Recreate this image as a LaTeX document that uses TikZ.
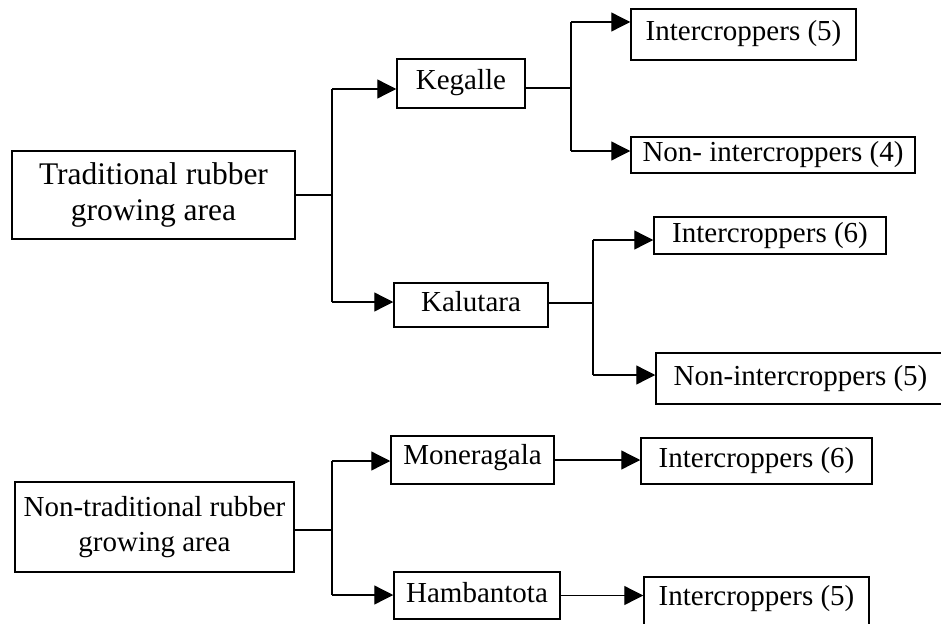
\documentclass[tikz,border=0pt]{standalone}
\usepackage{fontspec}
\setmainfont{Liberation Serif}
\usetikzlibrary{arrows.meta}
\begin{document}
\begin{tikzpicture}[x=1pt,y=-1pt,
  bx0/.style={draw,line width=1.5pt,inner sep=0pt,align=center,
    font=\fontsize{29}{33}\selectfont},
  bx/.style={bx0,text height=19pt,text depth=6pt},
  ln/.style={line width=1.3pt},
  arr/.style={line width=1.3pt,-{Triangle[length=19pt,width=19pt]}}]
\useasboundingbox (0,0) rectangle (941,623);
% nodes
\node[bx0,minimum width=283pt,minimum height=88pt,font=\fontsize{31.5}{36}\selectfont] (trad) at (153.5,195) {Traditional rubber\\growing area};
\node[bx,minimum width=128pt,minimum height=49pt] (keg) at (461,83.5) {Kegalle};
\node[bx,minimum width=225pt,minimum height=51pt] (i5) at (743.5,34.5) {Intercroppers (5)};
\node[bx,minimum width=284pt,minimum height=36pt] (n4) at (773,155) {Non- intercroppers (4)};
\node[bx,minimum width=154pt,minimum height=44pt] (kal) at (471,305) {Kalutara};
\node[bx,minimum width=232pt,minimum height=37pt] (i6a) at (770,235.5) {Intercroppers (6)};
\node[bx,minimum width=289pt,minimum height=51pt] (n5) at (800.5,378.5) {Non-intercroppers (5)};
\node[bx0,minimum width=279pt,minimum height=90pt,font=\fontsize{29}{35}\selectfont] (ntrad) at (154.5,527) {Non-traditional rubber\\growing area};
\node[bx,minimum width=163pt,minimum height=48pt,text depth=10pt] (mon) at (472.5,460) {Moneragala};
\node[bx,minimum width=231pt,minimum height=46pt] (i6b) at (756.5,461) {Intercroppers (6)};
\node[bx,minimum width=166pt,minimum height=47pt] (ham) at (477,595.5) {Hambantota};
\node[bx,minimum width=225pt,minimum height=55pt,text height=20pt,text depth=19pt] (i5b) at (756.5,604.5) {Intercroppers (5)};
% junction points
\coordinate (t1) at (332,195);
\coordinate (t1u) at (332,89);
\coordinate (t1d) at (332,302);
\coordinate (k1) at (571,88);
\coordinate (k1u) at (571,22);
\coordinate (k1d) at (571,151);
\coordinate (c1) at (593,303);
\coordinate (c1u) at (593,240);
\coordinate (c1d) at (593,375);
\coordinate (m1) at (332,530);
\coordinate (m1u) at (332,461);
\coordinate (m1d) at (332,595);
% connectors
\draw[ln] (trad.east |- t1) -- (t1);
\draw[ln] (t1u) -- (t1d);
\draw[arr] (t1u) -- (keg.west |- t1u);
\draw[arr] (t1d) -- (kal.west |- t1d);
\draw[ln] (keg.east |- k1) -- (k1);
\draw[ln] (k1u) -- (k1d);
\draw[arr] (k1u) -- (i5.west |- k1u);
\draw[arr] (k1d) -- (n4.west |- k1d);
\draw[ln] (kal.east |- c1) -- (c1);
\draw[ln] (c1u) -- (c1d);
\draw[arr] (c1u) -- (i6a.west |- c1u);
\draw[arr] (c1d) -- (n5.west |- c1d);
\draw[ln] (ntrad.east |- m1) -- (m1);
\draw[ln] (m1u) -- (m1d);
\draw[arr] (m1u) -- (mon.west |- m1u);
\draw[arr] (m1d) -- (ham.west |- m1d);
\draw[arr] (mon.east) -- (i6b.west |- mon.east);
\draw[arr] (ham.east) -- (i5b.west |- ham.east);
\end{tikzpicture}
\end{document}
